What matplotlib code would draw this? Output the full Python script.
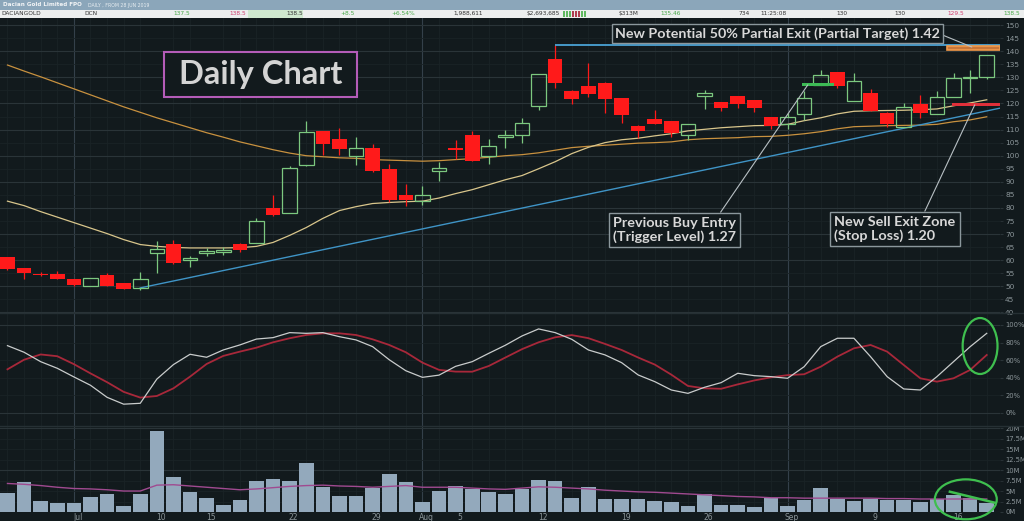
import numpy as np
import matplotlib.pyplot as plt
from matplotlib.patches import Rectangle, Ellipse
from matplotlib.ticker import MultipleLocator, FixedLocator, FuncFormatter
import matplotlib.transforms as mtransforms

# daily candles in cents (27 Jun - 18 Sep 2019)
opens = [61.2, 56.9, 54.8, 54.8, 52.7, 50.1, 54.2, 51.1, 49.5, 62.9,
         66.3, 60.2, 62.9, 63.0, 66.3, 66.7, 80.0, 78.2, 96.3, 109.5,
         106.5, 100.0, 102.9, 94.9, 85.0, 82.6, 94.0, 102.9, 107.9, 100.0,
         107.1, 107.9, 119.2, 136.9, 124.9, 126.5, 128.0, 122.0, 111.5, 114.0,
         113.1, 108.0, 122.9, 120.5, 122.9, 121.4, 114.8, 112.2, 116.0, 127.1,
         132.0, 121.1, 123.9, 116.5, 111.0, 119.7, 116.0, 122.6, 129.7, 130.0]
highs = [61.4, 57.0, 55.5, 55.8, 52.8, 53.3, 55.2, 51.2, 55.6, 67.4,
         67.9, 61.8, 64.8, 64.9, 66.4, 76.2, 85.1, 96.0, 113.4, 109.6,
         110.6, 107.0, 104.6, 96.9, 89.3, 88.3, 97.5, 106.1, 109.3, 106.4,
         109.9, 114.4, 131.3, 142.4, 125.0, 135.4, 128.1, 122.1, 111.6, 117.6,
         113.2, 112.3, 125.2, 120.6, 123.0, 121.5, 114.9, 116.5, 124.6, 132.8,
         132.1, 131.6, 125.5, 116.6, 120.3, 123.3, 124.6, 131.6, 132.8, 138.5]
lows = [56.3, 52.7, 53.8, 52.7, 50.2, 50.0, 50.0, 49.0, 48.6, 55.2,
        58.6, 57.5, 61.6, 62.0, 63.1, 66.5, 77.0, 78.0, 96.0, 100.4,
        100.4, 96.6, 93.8, 82.4, 80.7, 81.0, 90.2, 98.7, 98.0, 96.8,
        102.9, 104.8, 117.6, 126.1, 119.8, 122.6, 116.3, 112.5, 106.9, 112.0,
        107.0, 106.1, 117.8, 117.2, 118.2, 116.9, 110.2, 110.2, 113.7, 127.0,
        125.8, 121.0, 117.0, 111.0, 110.8, 114.4, 115.8, 122.4, 123.9, 129.5]
closes = [56.5, 55.0, 54.5, 52.9, 50.4, 53.2, 50.1, 49.1, 52.7, 64.4,
          58.8, 60.8, 63.7, 64.0, 64.1, 75.2, 77.2, 95.4, 108.9, 104.5,
          102.7, 102.9, 94.0, 83.2, 83.2, 85.0, 95.3, 102.3, 98.1, 103.9,
          107.9, 112.5, 131.2, 127.7, 121.6, 123.7, 121.6, 115.6, 109.3, 112.2,
          108.7, 112.1, 123.9, 118.2, 119.8, 118.2, 111.2, 114.8, 122.0, 130.9,
          126.7, 128.4, 117.2, 112.2, 118.8, 116.3, 122.6, 129.9, 130.0, 138.5]

# moving averages on the price panel
ma_fast = [82.6, 80.9, 78.6, 76.5, 74.4, 72.3, 70.2, 67.9, 66.0, 65.3,
           64.9, 64.7, 64.7, 64.7, 64.8, 65.3, 66.8, 69.5, 72.5, 76.0,
           79.0, 80.5, 81.7, 82.1, 82.4, 82.6, 83.8, 85.5, 87.0, 88.9,
           90.8, 92.4, 95.0, 97.7, 100.8, 103.2, 105.0, 106.1, 106.7, 107.6,
           108.4, 109.5, 110.1, 110.7, 111.1, 111.5, 111.6, 112.0, 113.4, 114.5,
           116.0, 117.0, 117.2, 117.3, 117.4, 117.6, 117.9, 119.1, 120.2, 121.4]
ma_slow = [134.7, 132.4, 130.2, 127.9, 125.6, 123.3, 121.0, 118.7, 116.6, 114.5,
           112.6, 110.7, 108.8, 107.1, 105.3, 103.8, 102.3, 101.0, 100.0, 99.6,
           99.2, 99.0, 98.5, 98.3, 98.1, 97.9, 98.1, 98.5, 98.9, 99.4,
           100.0, 100.4, 101.1, 102.1, 103.1, 103.6, 104.0, 104.4, 104.8, 105.0,
           105.3, 106.1, 106.5, 106.7, 106.9, 107.3, 107.4, 107.8, 108.4, 109.2,
           110.3, 111.1, 111.3, 111.5, 111.6, 111.7, 112.0, 113.0, 113.7, 114.9]

# stochastic oscillator (%)
stoch_k = [76.5, 69.0, 58.3, 50.8, 41.0, 31.5, 17.8, 10.0, 11.0, 38.5,
           55.0, 66.7, 63.3, 71.6, 77.3, 84.0, 85.6, 91.3, 90.5, 91.3,
           86.7, 83.0, 75.4, 60.5, 48.0, 40.5, 43.0, 53.0, 58.3, 67.8,
           77.0, 87.5, 95.5, 91.3, 83.7, 71.6, 66.0, 57.2, 43.2, 35.6,
           26.1, 22.3, 29.2, 34.5, 45.1, 42.4, 41.3, 39.4, 52.6, 75.4,
           84.9, 84.9, 64.0, 41.3, 27.3, 26.1, 41.3, 58.3, 75.3, 90.5]
stoch_d = [49.6, 60.5, 66.5, 64.5, 55.5, 45.0, 35.0, 24.0, 17.5, 19.3,
           28.0, 41.3, 55.7, 64.8, 69.7, 74.2, 80.3, 84.9, 88.6, 90.5,
           90.5, 88.6, 83.7, 77.3, 69.0, 57.2, 49.0, 47.0, 46.9, 53.4,
           63.0, 72.5, 80.3, 86.0, 88.5, 85.0, 78.5, 71.6, 63.0, 55.0,
           43.5, 30.7, 28.0, 27.5, 32.5, 37.0, 40.5, 43.0, 44.0, 52.6,
           64.0, 73.5, 77.3, 69.7, 54.5, 39.4, 35.6, 39.4, 48.9, 65.9]

# volume (millions of shares) and its average
volume = [4.6, 7.1, 2.6, 2.2, 2.2, 3.6, 4.3, 1.4, 4.3, 19.4,
          8.3, 4.7, 3.4, 1.7, 2.9, 7.4, 7.9, 7.3, 11.6, 6.0,
          3.8, 3.7, 5.8, 9.0, 7.1, 2.5, 5.0, 6.3, 5.6, 4.7,
          4.4, 5.5, 7.6, 7.3, 3.4, 6.0, 3.1, 3.1, 3.1, 2.7,
          2.3, 1.4, 4.3, 1.7, 1.7, 1.3, 3.3, 1.4, 2.9, 5.8,
          3.2, 2.7, 3.2, 2.8, 2.9, 2.5, 3.2, 4.1, 3.3, 2.1]
volume_ma = [6.8, 6.6, 6.3, 5.9, 5.6, 5.5, 5.3, 5.0, 5.0, 6.4,
             6.5, 6.2, 5.9, 5.6, 5.3, 5.5, 5.8, 6.1, 6.3, 6.4,
             6.2, 6.1, 5.9, 6.1, 6.3, 5.9, 5.9, 5.9, 5.7, 5.5,
             5.4, 5.7, 6.0, 5.9, 5.7, 5.5, 5.2, 5.0, 4.8, 4.7,
             4.5, 4.3, 4.1, 3.9, 3.7, 3.6, 3.4, 3.4, 3.3, 3.3,
             3.3, 3.3, 3.3, 3.2, 3.2, 3.1, 3.1, 3.1, 3.1, 3.1]

# date axis labels (candle index, text)
tick_idx = [4, 9, 12, 17, 22, 25, 27, 32, 37, 42, 47, 52, 57]
tick_text = ['Jul', '10', '15', '22', '29', 'Aug', '5', '12', '19', '26', 'Sep', '9', '16']
month_idx = [4, 25, 47]

# trade levels
resistance = 142.5
target_lo, target_hi = 140.5, 142.0
buy_lo, buy_hi = 126.5, 127.7
stop_lo, stop_hi = 119.1, 120.3
trend_x = [8, 59.8]
trend_y = [49.4, 118.2]

BG = '#121a1d'
GRID = '#2a3438'
GRID_FAINT = '#1a2326'
LABEL = '#8c969a'
RED = '#ff1a1a'
GREEN = '#7cc87f'
idx = np.arange(len(closes))

fig = plt.figure(figsize=(10.24, 5.21), dpi=100, facecolor=BG)
H = 521.0
ax_p = fig.add_axes([0, (H - 313) / H, 1000 / 1024, 295 / H], facecolor=BG)
ax_o = fig.add_axes([0, (H - 426) / H, 1000 / 1024, 113 / H], facecolor=BG, sharex=ax_p)
ax_v = fig.add_axes([0, (H - 512) / H, 1000 / 1024, 86 / H], facecolor=BG, sharex=ax_p)

for ax in (ax_p, ax_o, ax_v):
    for s in ax.spines.values():
        s.set_visible(False)
    ax.yaxis.tick_right()
    ax.tick_params(axis='y', which='both', colors=LABEL, labelsize=5.3, length=2.5, pad=1.2)
    ax.tick_params(axis='y', which='both', color=GRID)
    ax.xaxis.set_minor_locator(MultipleLocator(1))
    ax.grid(which='minor', axis='x', color=GRID_FAINT, lw=0.6)
    for m in month_idx:
        ax.axvline(m, color='#34404a', lw=0.8, zorder=0.5)
    ax.set_axisbelow(True)
ax_p.set_xlim(-0.45, 59.8)

# --- price panel ---
ax_p.set_ylim(39.8, 152.7)
ax_p.yaxis.set_major_locator(MultipleLocator(10))
ax_p.yaxis.set_minor_locator(MultipleLocator(5))
ax_p.yaxis.set_minor_formatter(FuncFormatter(lambda v, p: '%d' % v))
ax_p.grid(which='major', axis='y', color=GRID, lw=0.8)
ax_p.grid(which='minor', axis='y', color=GRID_FAINT, lw=0.6)
ax_p.tick_params(axis='x', which='both', length=0, labelbottom=False)

ax_p.plot(idx, ma_slow, color='#c8913f', lw=0.9, zorder=2)
ax_p.plot(idx, ma_fast, color='#d9c68c', lw=0.9, zorder=2)
ax_p.plot(trend_x, trend_y, color='#3f94c6', lw=1.0, zorder=2)

o = np.array(opens)
c = np.array(closes)
hi = np.array(highs)
lo = np.array(lows)
up = c >= o
top = np.maximum(o, c)
bot = np.minimum(o, c)
body = np.maximum(top - bot, 0.4)
ax_p.vlines(idx[up], top[up], hi[up], color=GREEN, lw=0.9, zorder=3)
ax_p.vlines(idx[up], lo[up], bot[up], color=GREEN, lw=0.9, zorder=3)
ax_p.vlines(idx[~up], lo[~up], hi[~up], color=RED, lw=0.9, zorder=3)
ax_p.bar(idx[~up], body[~up], bottom=bot[~up], width=0.88, color=RED, zorder=4)
ax_p.bar(idx[up], body[up], bottom=bot[up], width=0.88, facecolor='none',
         edgecolor=GREEN, lw=0.9, zorder=4)

# trade levels
ax_p.hlines(resistance, 33, 59.8, color='#4aa3d6', lw=1.3, zorder=5)
ax_p.add_patch(Rectangle((56.6, target_lo), 3.2, target_hi - target_lo,
                         facecolor='#c8773a', edgecolor='#f39a4a', lw=1.2, zorder=5))
ax_p.add_patch(Rectangle((47.9, buy_lo), 1.9, buy_hi - buy_lo,
                         facecolor='#3dbb55', edgecolor='none', zorder=5))
ax_p.add_patch(Rectangle((56.9, stop_lo), 2.9, stop_hi - stop_lo,
                         facecolor='#e0303a', edgecolor='none', zorder=5))

# "Daily Chart" label with its own frame
ax_p.add_patch(Rectangle((9.43, 122.5), 11.62, 17.2, facecolor=BG,
                         edgecolor='#b45cb8', lw=1.5, zorder=6))
ax_p.text(15.24, 131.0, 'Daily Chart', ha='center', va='center', fontsize=23.5,
          family='Lato', weight='bold', color='#d4d4d4', zorder=7)

# annotation boxes
box = dict(boxstyle='square,pad=0.3', facecolor=BG, edgecolor='#8b979c', lw=1)
arrow = dict(arrowstyle='-', color='#b8c0c4', lw=0.8, shrinkA=0, shrinkB=0)
ax_p.annotate('New Potential 50% Partial Exit (Partial Target) 1.42',
              xy=(58.1, 141.6), xytext=(46.39, 146.6), ha='center', va='center',
              fontsize=10.3, family='Lato', weight='bold', color='#d8d8d8', zorder=6,
              bbox=dict(box, boxstyle='square,pad=0.22'),
              arrowprops=dict(arrow, relpos=(1, 0.5)))
ax_p.annotate('Previous Buy Entry\n(Trigger Level) 1.27',
              xy=(48.22, 127.1), xytext=(40.18, 71.56), ha='center', va='center',
              multialignment='left', fontsize=10.4, family='Lato', weight='bold',
              color='#d8d8d8', zorder=6, linespacing=1.15, bbox=box,
              arrowprops=dict(arrow, relpos=(0.85, 1)))
ax_p.annotate('New Sell Exit Zone\n(Stop Loss) 1.20',
              xy=(58.28, 119.47), xytext=(53.46, 71.95), ha='center', va='center',
              multialignment='left', fontsize=10.4, family='Lato', weight='bold',
              color='#d8d8d8', zorder=6, linespacing=1.15, bbox=box,
              arrowprops=dict(arrow, relpos=(0.73, 1)))

# --- oscillator panel ---
ax_o.set_ylim(-14.8, 113.6)
ax_o.set_yticks([0, 20, 40, 60, 80, 100])
ax_o.set_yticklabels(['0%', '20%', '40%', '60%', '80%', '100%'])
ax_o.grid(which='major', axis='y', color=GRID_FAINT, lw=0.6)
ax_o.axhline(0, color=GRID, lw=0.8, zorder=0.6)
ax_o.axhline(100, color=GRID, lw=0.8, zorder=0.6)
ax_o.tick_params(axis='x', which='both', length=0, labelbottom=False)
ax_o.plot(idx, stoch_d, color='#a8283a', lw=1.3, zorder=3)
ax_o.plot(idx, stoch_k, color='#c9cccc', lw=0.9, zorder=4)
ax_o.add_patch(Ellipse((58.6, 76.1), 2.1, 63.6, facecolor='none',
                       edgecolor='#3fbf4f', lw=1.6, zorder=5))

# --- volume panel ---
ax_v.set_ylim(0, 20.5)
ax_v.yaxis.set_major_locator(FixedLocator([0, 10, 20]))
ax_v.yaxis.set_minor_locator(MultipleLocator(2.5))
ax_v.yaxis.set_major_formatter(FuncFormatter(lambda v, p: '%gM' % v))
ax_v.yaxis.set_minor_formatter(FuncFormatter(lambda v, p: '%gM' % v))
ax_v.grid(which='major', axis='y', color=GRID, lw=0.8)
ax_v.grid(which='minor', axis='y', color=GRID_FAINT, lw=0.6)
ax_v.bar(idx, volume, width=0.88, color='#93a9bc', zorder=3)
ax_v.plot(idx, volume_ma, color='#a04a90', lw=1.0, zorder=4)
ax_v.add_patch(Ellipse((57.74, 3.02), 3.73, 9.52, facecolor='none',
                       edgecolor='#3fbf4f', lw=1.6, zorder=5, clip_on=False))
ax_v.plot([56.78, 59.49], [4.83, 2.21], color='#3fbf4f', lw=1.8, zorder=5)

ax_v.set_xticks(tick_idx)
ax_v.set_xticklabels(tick_text)
ax_v.tick_params(axis='x', which='both', length=0, colors=LABEL, labelsize=5.5, pad=1)
shift = mtransforms.ScaledTranslation(4 / 100, 0, fig.dpi_scale_trans)
for lab in ax_v.get_xticklabels():
    lab.set_transform(lab.get_transform() + shift)

for ax in (ax_o, ax_v):
    ax.tick_params(axis='y', which='both', labelsize=4.9)

# panel separators
for y in (313, 426):
    fig.add_artist(plt.Line2D([0, 1], [(H - y) / H, (H - y) / H], color='#263034', lw=1))

# --- header strip ---
fig.add_artist(Rectangle((0, 1 - 9.5 / H), 1, 9.5 / H, transform=fig.transFigure,
                         facecolor='#8ba6ba', edgecolor='none'))
fig.add_artist(Rectangle((0, 1 - 17.5 / H), 1, 8 / H, transform=fig.transFigure,
                         facecolor='#eceeee', edgecolor='none'))
fig.add_artist(Rectangle((248 / 1024, 1 - 17.5 / H), 55 / 1024, 8 / H,
                         transform=fig.transFigure, facecolor='#cfe8cf', edgecolor='none'))
fig.text(3 / 1024, 1 - 5 / H, 'Dacian Gold Limited FPO', ha='left', va='center',
         fontsize=4.1, weight='bold', color='#f2f4f6')
fig.text(88 / 1024, 1 - 5 / H, 'DAILY , FROM 28 JUN 2019', ha='left', va='center',
         fontsize=3.3, color='#e8eef2')
row = [(1, 'DACIANGOLD', '#333333', 'left'), (84, 'DCN', '#333333', 'left'),
       (190, '137.5', '#48a848', 'right'), (246, '138.5', '#d04070', 'right'),
       (303, '138.5', '#333333', 'right'), (355, '+8.5', '#48a848', 'right'),
       (415, '+6.54%', '#48a848', 'right'), (483, '1,988,611', '#333333', 'right'),
       (560, '$2,693,685', '#333333', 'right'), (638, '$313M', '#333333', 'right'),
       (681, '135.46', '#48a848', 'right'), (750, '734', '#333333', 'right'),
       (787, '11:25:08', '#333333', 'right'), (848, '130', '#333333', 'right'),
       (906, '130', '#333333', 'right'), (964, '129.5', '#d04070', 'right'),
       (1020, '138.5', '#48a848', 'right')]
for x, t, col, ha in row:
    fig.text(x / 1024, 1 - 13.5 / H, t, ha=ha, va='center', fontsize=4.2, color=col)
# tiny bid/ask bars in the header
for k in range(8):
    fig.add_artist(Rectangle(((563 + k * 3) / 1024, 1 - 16.5 / H), 1.5 / 1024, 6 / H,
                             transform=fig.transFigure, edgecolor='none',
                             facecolor='#b04050' if 3 <= k <= 5 else '#60b860'))

fig.savefig('out.png', dpi=100, facecolor=BG)
